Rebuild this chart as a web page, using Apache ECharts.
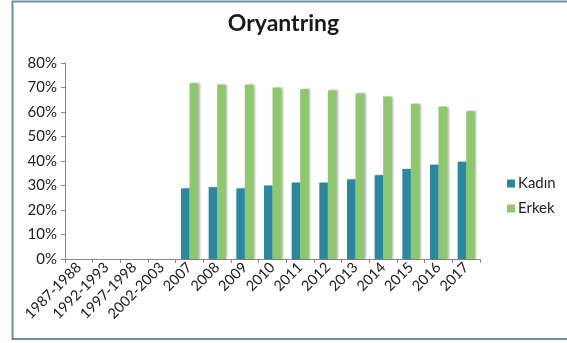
<!DOCTYPE html>
<html><head><meta charset="utf-8">
<script src="https://cdn.jsdelivr.net/npm/echarts@6/dist/echarts.min.js"></script>
<style>html,body{margin:0;padding:0;background:#fff}#c{width:567px;height:343px}</style>
</head><body><div id="c"></div>
<script>
var categories = ['1987-1988','1992-1993','1997-1998','2002-2003','2007','2008','2009','2010','2011','2012','2013','2014','2015','2016','2017'];
var kadin = [null,null,null,null,28.8,29.3,28.8,30.0,31.2,31.2,32.5,34.2,36.7,38.5,39.7];
var erkek = [null,null,null,null,71.7,71.2,71.2,70.0,69.3,68.8,67.6,66.3,63.4,62.2,60.3];
var yTicks = [0,10,20,30,40,50,60,70,80];

var chart = echarts.init(document.getElementById('c'));
var shadow = {shadowColor:'rgba(0,0,0,0.3)', shadowBlur:2, shadowOffsetX:1.5, shadowOffsetY:0};
chart.setOption({
  animation:false,
  textStyle:{fontFamily:'Lato'},
  graphic:[{type:'rect', shape:{x:12.5,y:1.5,width:600,height:337.5}, style:{fill:'none', stroke:'#6d8ea3', lineWidth:2}, silent:true}],
  title:{text:'Oryantring', left:'center', top:7, textStyle:{fontFamily:'Lato', fontWeight:'bold', fontSize:23, color:'#1a1a1a'}},
  legend:{orient:'vertical', left:502, top:171, itemWidth:8, itemHeight:8, itemGap:10, icon:'rect',
    textStyle:{fontFamily:'Lato', fontSize:15, color:'#222', padding:[0,0,0,-2]}, data:['Kadın','Erkek']},
  grid:{left:65, right:87, top:63, bottom:84, containLabel:false},
  xAxis:{type:'category', data:categories,
    axisLine:{lineStyle:{color:'#8a8a8a'}}, axisTick:{show:true, alignWithLabel:false, lineStyle:{color:'#8a8a8a'}, length:4},
    axisLabel:{rotate:45, interval:0, fontSize:14.5, color:'#222', margin:6}},
  yAxis:{type:'value', min:0, max:80, interval:10,
    axisLine:{show:true, lineStyle:{color:'#8a8a8a'}}, axisTick:{show:true, inside:false, length:4, lineStyle:{color:'#8a8a8a'}},
    splitLine:{show:false},
    axisLabel:{formatter:'{value}%', fontSize:15, color:'#222', margin:8}},
  series:[
    {name:'Kadın', type:'bar', data:kadin, barWidth:8.5, barGap:'0%', barCategoryGap:'38%', itemStyle:Object.assign({color:'#2a87a0'}, shadow)},
    {name:'Erkek', type:'bar', data:erkek, barWidth:8.5, barGap:'0%', itemStyle:Object.assign({color:'#8dc96c'}, shadow)}
  ]
});
</script></body></html>
